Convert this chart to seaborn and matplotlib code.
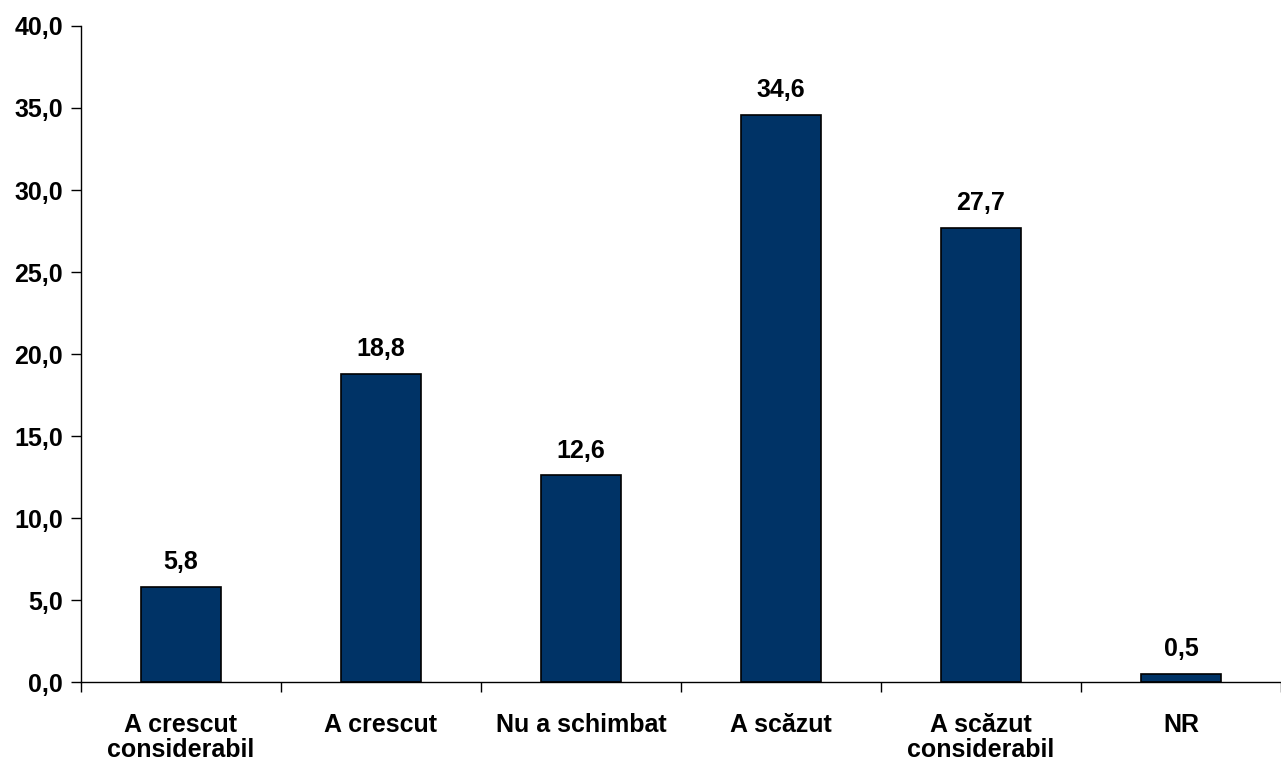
import matplotlib
matplotlib.use("Agg")
import matplotlib.pyplot as plt
import seaborn as sns
import pandas as pd

categories = ["A crescut\nconsiderabil", "A crescut", "Nu a schimbat",
              "A scăzut", "A scăzut\nconsiderabil", "NR"]
values = [5.8, 18.8, 12.6, 34.6, 27.7, 0.5]
yticks = [0, 5, 10, 15, 20, 25, 30, 35, 40]


def fmt(v):
    return f"{v:.1f}".replace(".", ",")


sns.set_style("white")
plt.rcParams['font.family'] = ['Liberation Sans', 'DejaVu Sans']
plt.rcParams['font.weight'] = 'bold'
plt.rcParams['text.color'] = 'black'
plt.rcParams['xtick.color'] = 'black'
plt.rcParams['ytick.color'] = 'black'

df = pd.DataFrame({"cat": categories, "val": values})

fig = plt.figure(figsize=(12.81, 7.6), dpi=100)
ax = fig.add_axes([0.0632, 0.1026, 0.9368, 0.8632])

sns.barplot(data=df, x="cat", y="val", color="#003366", saturation=1,
            width=0.4, edgecolor="black", linewidth=1.2, ax=ax)

ax.bar_label(ax.containers[0], labels=[fmt(v) for v in values], padding=9,
             fontsize=18, fontweight="bold", color="black")

ax.set_xlim(-0.5, len(categories) - 0.5)
ax.set_ylim(0, 40)
ax.set_yticks(yticks)
ax.set_yticklabels([fmt(v) for v in yticks], fontsize=18, fontweight="bold")
ax.set_xlabel("")
ax.set_ylabel("")

ax.set_xticks(range(len(categories)))
ax.set_xticklabels(categories, fontsize=18, fontweight="bold", linespacing=1.1)
ax.tick_params(axis="x", which="major", bottom=True, length=0, pad=22)
ax.set_xticks([i - 0.5 for i in range(len(categories) + 1)], minor=True)
ax.tick_params(axis="x", which="minor", bottom=True, length=7, width=1,
               color="black", direction="out")
ax.tick_params(axis="y", left=True, length=7, width=1, color="black",
               direction="out", pad=6)

for s in ["top", "right"]:
    ax.spines[s].set_visible(False)
for s in ["left", "bottom"]:
    ax.spines[s].set_color("black")
    ax.spines[s].set_linewidth(1)

fig.savefig("out.png", dpi=100)
